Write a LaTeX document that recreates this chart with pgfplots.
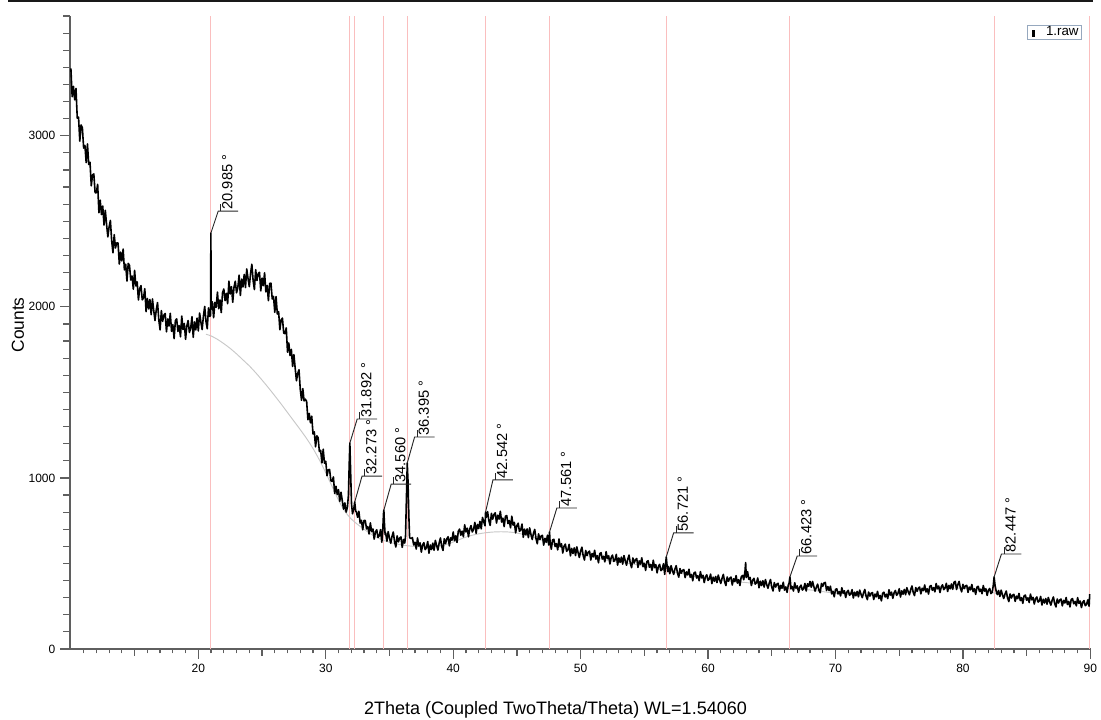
\documentclass[border=0pt]{standalone}
\usepackage{fontspec}
\setmainfont{Liberation Sans}
\usepackage{pgfplots}
\pgfplotsset{compat=1.18}

\definecolor{peakline}{RGB}{250,190,190}
\definecolor{bgline}{RGB}{200,200,200}
\definecolor{axisgray}{RGB}{95,95,95}
\definecolor{legframe}{RGB}{150,168,190}

% peak marker: position, peak height, rise of the leader, label text
\newcommand{\peaklabel}[4]{%
  \draw[black!85, line width=0.7pt] (axis cs:#1,#2) -- ++(5.5pt,#3) coordinate (lbl) -- ++(15pt,0pt);
  \draw[black!85, line width=0.7pt] (lbl) ++(2pt,0pt) -- ++(0pt,5pt);
  \node[rotate=90, anchor=north west, inner sep=0pt, font=\fontsize{11}{11}\selectfont]
    at ([xshift=2.8pt,yshift=1pt]lbl) {#4};
}

\begin{document}
\begin{tikzpicture}
\useasboundingbox (0,0) rectangle (825.75pt,540pt);
\draw[line width=1.5pt, black!90] (6pt,539.25pt) -- (819.75pt,539.25pt);
\begin{axis}[
  at={(52.5pt,53.25pt)}, anchor=south west,
  scale only axis, width=765.75pt, height=474.75pt,
  xmin=9.93, xmax=90.05, ymin=0, ymax=3700,
  axis x line*=bottom, axis y line*=left,
  axis line style={-, axisgray, line width=0.9pt},
  tick pos=left, tick align=outside,
  tick style={axisgray, line width=0.9pt},
  major tick length=7.5pt, minor tick length=3.2pt,
  xtick={20,30,...,90}, minor xtick={11,12,...,89},
  extra x ticks={15,25,...,85},
  extra x tick style={major tick length=5.25pt, xticklabel={}},
  ytick={0,1000,2000,3000},
  extra y ticks={100,200,...,3700},
  extra y tick style={major tick length=5.25pt, yticklabel={}},
  scaled y ticks=false,
  /pgf/number format/1000 sep={},
  /pgf/number format/assume math mode=true,
  tick label style={font=\fontsize{9}{10}\selectfont, black},
  xlabel={2Theta (Coupled TwoTheta/Theta) WL=1.54060},
  ylabel={Counts},
  xlabel style={font=\fontsize{13.5}{15}\selectfont, at={(axis description cs:0.4755,-0.0964)}, anchor=center},
  ylabel style={font=\fontsize{13}{15}\selectfont, at={(axis description cs:-0.0509,0.512)}, anchor=center},
  clip=false,
  legend style={at={(axis description cs:0.9912,0.9858)}, anchor=north east,
    draw=legframe, line width=0.9pt, fill=white, inner xsep=1.5pt, inner ysep=0.3pt,
    font=\fontsize{10}{10}\selectfont, nodes={inner sep=0.6pt}},
  legend image code/.code={\path[draw=none,fill=none] (0pt,0pt) -- (12pt,0pt); \fill[black,draw=none] (1.8pt,-3.8pt) rectangle (4.1pt,1.6pt);},
]

% reference positions of the identified reflections
\addplot[ycomb, draw=peakline, line width=0.7pt, forget plot] coordinates {
(20.985,3700)(31.892,3700)(32.273,3700)(34.560,3700)(36.395,3700)(42.542,3700)
(47.561,3700)(56.721,3700)(66.423,3700)(82.447,3700)(89.93,3700)};

% fitted background
\addplot[smooth, draw=bgline, line width=0.7pt, forget plot] coordinates {
(20.6,1840)(21.0,1830)(21.5,1810)(22.0,1785)(22.5,1757)(23.0,1725)(23.5,1690)(24.0,1655)
(24.5,1615)(25.0,1572)(25.5,1527)(26.0,1480)(26.5,1432)(27.0,1382)(27.5,1332)(28.0,1282)
(28.5,1230)(29.0,1172)(29.5,1105)(30.0,1030)(30.5,950)(31.0,870)(31.5,805)(32.0,760)
(32.5,728)(33.0,700)(33.5,674)(34.0,652)(34.5,636)(35.0,624)(35.5,615)(36.0,608)
(36.5,603)(37.0,599)(37.5,597)(38.0,596)(38.5,598)(39.0,603)(39.5,612)(40.0,625)
(40.5,640)(41.0,654)(41.5,665)(42.0,673)(42.5,679)(43.0,683)(43.5,685)(44.0,685)
(44.5,683)(45.0,678)(45.5,670)(46.0,660)(46.5,648)(47.0,635)(47.5,621)(48.0,607)
(48.5,594)(49.0,581)(50.0,556)(52.0,520)(54.0,498)(56.0,468)(58.0,440)(60.0,408)
(62.0,395)(64.0,380)(66.0,356)(68.0,345)(70.0,326)(72.0,316)(74.0,310)(76.0,335)
(78.0,350)(80.0,355)(82.0,335)(84.0,298)(86.0,280)(88.0,272)(90.0,262)};

% measured pattern
\addplot[black, line width=1.2pt, line join=round] coordinates {
(10.0,3394)(10.1,3228)(10.2,3289)(10.3,3210)(10.4,3276)(10.5,3103)(10.6,3109)(10.7,2968)(10.8,3063)(10.9,3048)
(11.0,2928)(11.1,2944)(11.2,2843)(11.3,2952)(11.4,2832)(11.5,2845)(11.6,2708)(11.7,2771)(11.8,2777)(11.9,2667)
(12.0,2667)(12.1,2716)(12.2,2550)(12.3,2623)(12.4,2539)(12.5,2589)(12.6,2478)(12.7,2564)(12.8,2482)(12.9,2409)
(13.0,2468)(13.1,2505)(13.2,2387)(13.3,2316)(13.4,2422)(13.5,2344)(13.6,2374)(13.7,2373)(13.8,2250)(13.9,2320)
(14.0,2268)(14.1,2338)(14.2,2216)(14.3,2249)(14.4,2151)(14.5,2254)(14.6,2242)(14.7,2157)(14.8,2180)(14.9,2103)
(15.0,2213)(15.1,2122)(15.2,2146)(15.3,2040)(15.4,2107)(15.5,2124)(15.6,2041)(15.7,2052)(15.8,2106)(15.9,1972)
(16.0,2049)(16.1,1988)(16.2,2043)(16.3,1954)(16.4,2046)(16.5,1979)(16.6,1920)(16.7,1983)(16.8,2025)(16.9,1923)
(17.0,1865)(17.1,1978)(17.2,1915)(17.3,1952)(17.4,1961)(17.5,1854)(17.6,1929)(17.7,1888)(17.8,1962)(17.9,1857)
(18.0,1896)(18.1,1814)(18.2,1919)(18.3,1930)(18.4,1856)(18.5,1890)(18.6,1825)(18.7,1946)(18.8,1867)(18.9,1903)
(19.0,1810)(19.1,1890)(19.2,1920)(19.3,1850)(19.4,1874)(19.5,1942)(19.6,1822)(19.7,1912)(19.8,1865)(19.9,1934)
(20.0,1859)(20.1,1964)(20.2,1911)(20.3,1867)(20.4,1945)(20.5,2002)(20.6,1915)(20.7,1872)(20.8,1994)(20.9,1944)
(20.96,1950)(20.985,2431)(21.01,1985)
(21.1,2029)(21.2,1936)(21.3,2026)(21.4,1997)(21.5,2086)(21.6,1989)(21.7,2040)(21.8,1966)(21.9,2083)(22.0,2104)
(22.1,2036)(22.2,2079)(22.3,2018)(22.4,2150)(22.5,2075)(22.6,2118)(22.7,2027)(22.8,2115)(22.9,2150)(23.0,2082)
(23.1,2112)(23.2,2185)(23.3,2066)(23.4,2162)(23.5,2116)(23.6,2189)(23.7,2113)(23.8,2221)(23.9,2166)(24.0,2118)
(24.1,2195)(24.2,2249)(24.3,2154)(24.4,2101)(24.5,2217)(24.6,2154)(24.7,2194)(24.8,2202)(24.9,2093)(25.0,2168)
(25.1,2124)(25.2,2199)(25.3,2088)(25.4,2125)(25.5,2036)(25.6,2137)(25.7,2138)(25.8,2046)(25.9,2061)(26.0,1968)
(26.1,2060)(26.2,1958)(26.3,1972)(26.4,1866)(26.5,1924)(26.6,1934)(26.7,1847)(26.8,1843)(26.9,1877)(27.0,1735)
(27.1,1789)(27.2,1715)(27.3,1751)(27.4,1651)(27.5,1721)(27.6,1642)(27.7,1568)(27.8,1610)(27.9,1632)(28.0,1518)
(28.1,1454)(28.2,1522)(28.3,1450)(28.4,1460)(28.5,1447)(28.6,1340)(28.7,1377)(28.8,1322)(28.9,1361)(29.0,1257)
(29.1,1269)(29.2,1182)(29.3,1246)(29.4,1235)(29.5,1154)(29.6,1161)(29.7,1088)(29.8,1168)(29.9,1086)(30.0,1097)
(30.1,1013)(30.2,1048)(30.3,1049)(30.4,983)(30.5,980)(30.6,1006)(30.7,909)(30.8,951)(30.9,903)(31.0,931)
(31.1,863)(31.2,916)(31.3,864)(31.4,817)(31.5,854)(31.6,800)(31.7,830)(31.78,900)(31.84,1080)(31.892,1204)
(31.95,1040)(32.02,850)(32.1,790)(32.2,820)(32.273,859)(32.35,805)(32.4,803)(32.5,770)(32.6,805)(32.7,736)
(32.8,752)(32.9,697)(33.0,751)(33.1,751)(33.2,702)(33.3,716)(33.4,672)(33.5,737)(33.6,686)(33.7,702)
(33.8,642)(33.9,684)(34.0,697)(34.1,652)(34.2,662)(34.3,698)(34.4,624)(34.47,690)(34.53,790)(34.56,812)
(34.6,740)(34.66,668)(34.7,679)(34.8,630)(34.9,686)(35.0,649)(35.1,618)(35.2,658)(35.3,684)(35.4,627)
(35.5,596)(35.6,661)(35.7,626)(35.8,649)(35.9,655)(36.0,594)(36.1,640)(36.2,619)(36.26,660)(36.33,880)
(36.395,1087)(36.45,990)(36.52,780)(36.58,650)(36.7,646)(36.8,651)(36.9,608)(37.0,624)(37.1,584)(37.2,649)
(37.3,602)(37.4,620)(37.5,566)(37.6,608)(37.7,622)(37.8,581)(37.9,592)(38.0,628)(38.1,560)(38.2,608)
(38.3,581)(38.4,619)(38.5,577)(38.6,635)(38.7,605)(38.8,578)(38.9,619)(39.0,649)(39.1,600)(39.2,576)
(39.3,644)(39.4,616)(39.5,644)(39.6,656)(39.7,603)(39.8,650)(39.9,635)(40.0,684)(40.1,633)(40.2,662)
(40.3,623)(40.4,688)(40.5,701)(40.6,665)(40.7,689)(40.8,656)(40.9,726)(41.0,684)(41.1,706)(41.2,656)
(41.3,702)(41.4,721)(41.5,684)(41.6,700)(41.7,740)(41.8,676)(41.9,728)(42.0,704)(42.1,746)(42.2,702)
(42.3,769)(42.4,742)(42.5,720)(42.542,801)(42.6,769)(42.7,803)(42.8,750)(42.9,722)(43.0,793)(43.1,759)
(43.2,786)(43.3,796)(43.4,736)(43.5,782)(43.6,759)(43.7,805)(43.8,742)(43.9,765)(44.0,715)(44.1,776)
(44.2,780)(44.3,733)(44.4,751)(44.5,708)(44.6,776)(44.7,724)(44.8,740)(44.9,679)(45.0,722)(45.1,735)
(45.2,688)(45.3,696)(45.4,730)(45.5,653)(45.6,701)(45.7,667)(45.8,702)(45.9,651)(46.0,708)(46.1,670)
(46.2,640)(46.3,676)(46.4,699)(46.5,645)(46.6,615)(46.7,673)(46.8,639)(46.9,660)(47.0,664)(47.1,607)
(47.2,647)(47.3,624)(47.4,665)(47.5,608)(47.561,684)(47.6,629)(47.7,583)(47.8,638)(47.9,641)(48.0,599)
(48.1,616)(48.2,579)(48.3,643)(48.4,598)(48.5,615)(48.6,561)(48.7,601)(48.8,613)(48.9,571)(49.0,580)
(49.1,612)(49.2,544)(49.3,588)(49.4,558)(49.5,591)(49.6,546)(49.7,597)(49.8,564)(49.9,535)(50.0,572)
(50.1,595)(50.2,546)(50.3,520)(50.4,576)(50.5,546)(50.6,566)(50.7,572)(50.8,520)(50.9,558)(51.0,539)
(51.1,577)(51.2,525)(51.3,546)(51.4,504)(51.5,557)(51.6,563)(51.7,526)(51.8,542)(51.9,509)(52.0,569)
(52.1,528)(52.2,545)(52.3,497)(52.4,535)(52.5,549)(52.6,512)(52.7,521)(52.8,553)(52.9,490)(53.0,532)
(53.1,506)(53.2,537)(53.3,496)(53.4,546)(53.5,516)(53.6,490)(53.7,525)(53.8,549)(53.9,501)(54.0,475)
(54.1,532)(54.2,502)(54.3,522)(54.4,529)(54.5,477)(54.6,515)(54.7,496)(54.8,533)(54.9,481)(55.0,501)
(55.1,459)(55.2,511)(55.3,516)(55.4,478)(55.5,494)(55.6,460)(55.7,519)(55.8,477)(55.9,493)(56.0,445)
(56.1,482)(56.2,495)(56.3,458)(56.4,466)(56.5,498)(56.6,436)(56.66,490)(56.721,538)(56.78,490)(56.85,452)
(56.9,482)(57.0,440)(57.1,487)(57.2,459)(57.3,436)(57.4,467)(57.5,487)(57.6,444)(57.7,420)(57.8,470)
(57.9,443)(58.0,460)(58.1,464)(58.2,417)(58.3,451)(58.4,433)(58.5,466)(58.6,419)(58.7,436)(58.8,399)
(58.9,445)(59.0,449)(59.1,415)(59.2,429)(59.3,399)(59.4,452)(59.5,416)(59.6,431)(59.7,388)(59.8,422)
(59.9,434)(60.0,401)(60.1,410)(60.2,438)(60.3,382)(60.4,420)(60.5,396)(60.6,424)(60.7,388)(60.8,432)
(60.9,405)(61.0,383)(61.1,414)(61.2,436)(61.3,393)(61.4,371)(61.5,421)(61.6,396)(61.7,414)(61.8,420)
(61.9,374)(62.0,410)(62.1,394)(62.2,429)(62.3,385)(62.4,405)(62.5,371)(62.6,421)(62.7,430)(62.8,405)
(62.9,456)(62.95,505)(63.0,418)(63.1,452)(63.2,407)(63.3,418)(63.4,371)(63.5,402)(63.6,413)(63.7,379)
(63.8,387)(63.9,415)(64.0,358)(64.1,396)(64.2,371)(64.3,399)(64.4,362)(64.5,406)(64.6,378)(64.7,355)
(64.8,385)(64.9,406)(65.0,362)(65.1,339)(65.2,388)(65.3,362)(65.4,379)(65.5,384)(65.6,338)(65.7,372)
(65.8,355)(65.9,390)(66.0,344)(66.1,363)(66.2,331)(66.3,375)(66.36,385)(66.423,421)(66.48,380)(66.5,351)
(66.6,365)(66.7,339)(66.8,387)(66.9,355)(67.0,369)(67.1,331)(67.2,362)(67.3,373)(67.4,344)(67.5,354)
(67.6,383)(67.7,339)(67.8,381)(67.9,366)(68.0,395)(68.1,361)(68.2,395)(68.3,365)(68.4,338)(68.5,361)
(68.6,379)(68.7,343)(68.8,329)(68.9,383)(69.0,366)(69.1,386)(69.2,389)(69.3,342)(69.4,365)(69.5,341)
(69.6,367)(69.7,322)(69.8,338)(69.9,305)(70.0,348)(70.1,352)(70.2,322)(70.3,336)(70.4,310)(70.5,358)
(70.6,326)(70.7,340)(70.8,301)(70.9,333)(71.0,343)(71.1,314)(71.2,322)(71.3,347)(71.4,298)(71.5,332)
(71.6,311)(71.7,337)(71.8,305)(71.9,344)(72.0,321)(72.1,300)(72.2,328)(72.3,348)(72.4,309)(72.5,288)
(72.6,333)(72.7,309)(72.8,326)(72.9,330)(73.0,289)(73.1,321)(73.2,305)(73.3,337)(73.4,295)(73.5,313)
(73.6,281)(73.7,326)(73.8,332)(73.9,304)(74.0,320)(74.1,295)(74.2,346)(74.3,315)(74.4,332)(74.5,296)
(74.6,329)(74.7,342)(74.8,314)(74.9,325)(75.0,352)(75.1,304)(75.2,340)(75.3,320)(75.4,348)(75.5,317)
(75.6,358)(75.7,336)(75.8,317)(75.9,347)(76.0,368)(76.1,331)(76.2,312)(76.3,359)(76.4,337)(76.5,356)
(76.6,362)(76.7,322)(76.8,355)(76.9,341)(77.0,374)(77.1,333)(77.2,352)(77.3,321)(77.4,366)(77.5,371)
(77.6,343)(77.7,359)(77.8,334)(77.9,383)(78.0,352)(78.1,368)(78.2,330)(78.3,363)(78.4,375)(78.5,347)
(78.6,357)(78.7,384)(78.8,336)(78.9,372)(79.0,352)(79.1,380)(79.2,349)(79.3,390)(79.4,395)(79.5,348)
(79.6,376)(79.7,395)(79.8,356)(79.9,334)(80.0,378)(80.1,353)(80.2,369)(80.3,372)(80.4,331)(80.5,362)
(80.6,346)(80.7,377)(80.8,335)(80.9,352)(81.0,319)(81.1,362)(81.2,366)(81.3,336)(81.4,350)(81.5,323)
(81.6,371)(81.7,338)(81.8,352)(81.9,313)(82.0,344)(82.1,354)(82.2,324)(82.3,332)(82.38,370)(82.447,421)
(82.52,372)(82.6,341)(82.7,318)(82.8,342)(82.9,307)(83.0,344)(83.1,318)(83.2,295)(83.3,321)(83.4,339)
(83.5,299)(83.6,277)(83.7,322)(83.8,298)(83.9,315)(84.0,319)(84.1,278)(84.2,309)(84.3,294)(84.4,325)
(84.5,283)(84.6,300)(84.7,267)(84.8,311)(84.9,315)(85.0,285)(85.1,299)(85.2,272)(85.3,321)(85.4,288)
(85.5,302)(85.6,263)(85.7,294)(85.8,304)(85.9,274)(86.0,282)(86.1,307)(86.2,257)(86.3,291)(86.4,269)
(86.5,295)(86.6,262)(86.7,301)(86.8,277)(86.9,256)(87.0,285)(87.1,304)(87.2,266)(87.3,246)(87.4,292)
(87.5,269)(87.6,287)(87.7,292)(87.8,252)(87.9,284)(88.0,269)(88.1,301)(88.2,260)(88.3,278)(88.4,246)
(88.5,290)(88.6,294)(88.7,264)(88.8,278)(88.9,252)(89.0,300)(89.1,267)(89.2,280)(89.3,242)(89.4,273)
(89.5,283)(89.6,253)(89.7,261)(89.8,287)(89.9,250)(89.95,320)};
\addlegendentry{1.raw}

\peaklabel{20.985}{2431}{16.5pt}{20.985 °}
\peaklabel{31.892}{1204}{18pt}{31.892 °}
\peaklabel{32.273}{859}{19.5pt}{32.273 °}
\peaklabel{34.56}{812}{19.5pt}{34.560 °}
\peaklabel{36.395}{1087}{19.5pt}{36.395 °}
\peaklabel{42.542}{801}{24pt}{42.542 °}
\peaklabel{47.561}{684}{18pt}{47.561 °}
\peaklabel{56.721}{538}{18pt}{56.721 °}
\peaklabel{66.423}{421}{15.75pt}{66.423 °}
\peaklabel{82.447}{421}{17.25pt}{82.447 °}
\end{axis}
\end{tikzpicture}
\end{document}
